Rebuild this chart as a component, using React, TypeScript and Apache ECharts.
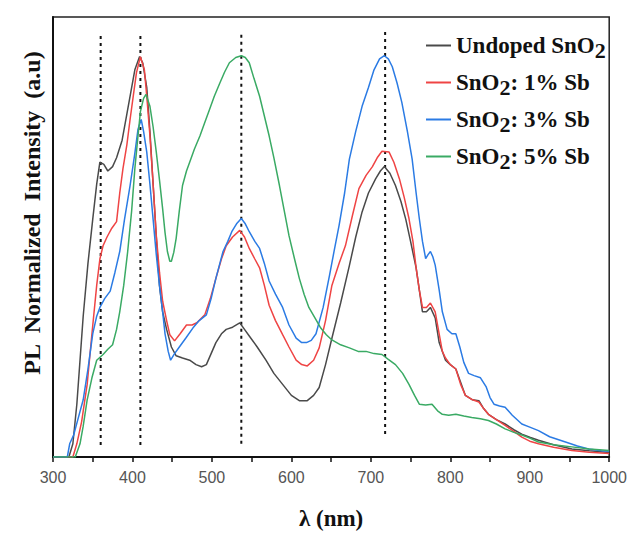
import React, { useEffect, useRef } from "react";
import * as echarts from "echarts";

const seriesNames = ["Undoped SnO2", "SnO2: 1% Sb", "SnO2: 3% Sb", "SnO2: 5% Sb"];
const seriesColors = ["#4a4a4a", "#ef4444", "#2b7be4", "#3aaa64"];

const undopedX = [300, 320, 325, 330, 338, 344, 350, 355, 359, 364, 369, 375, 380, 387, 393, 398, 403, 409, 413, 418, 422, 426, 430, 434, 438, 443, 449, 455, 463, 472, 480, 487, 493, 499, 505, 512, 518, 526, 535, 541, 547, 557, 568, 578, 589, 600, 610, 620, 628, 635, 643, 651, 662, 673, 681, 689, 697, 706, 712, 717, 724, 731, 738, 744, 750, 757, 765, 770, 775, 781, 786, 794, 800, 807, 813, 819, 828, 836, 842, 848, 858, 869, 880, 890, 900, 911, 930, 953, 975, 1000];
const undopedY = [0, 0, 0.03, 0.12, 0.32, 0.44, 0.54, 0.62, 0.67, 0.665, 0.65, 0.66, 0.68, 0.72, 0.78, 0.83, 0.88, 0.91, 0.895, 0.84, 0.74, 0.62, 0.5, 0.39, 0.33, 0.29, 0.25, 0.23, 0.225, 0.22, 0.21, 0.205, 0.21, 0.235, 0.26, 0.28, 0.29, 0.295, 0.305, 0.29, 0.275, 0.25, 0.22, 0.19, 0.165, 0.14, 0.128, 0.128, 0.14, 0.158, 0.21, 0.27, 0.35, 0.435, 0.5, 0.557, 0.6, 0.632, 0.65, 0.66, 0.645, 0.617, 0.58, 0.54, 0.49, 0.43, 0.33, 0.33, 0.34, 0.316, 0.26, 0.22, 0.21, 0.2, 0.17, 0.14, 0.13, 0.128, 0.11, 0.097, 0.085, 0.075, 0.062, 0.052, 0.045, 0.038, 0.028, 0.018, 0.014, 0.01];

const sb1X = [300, 325, 330, 336, 343, 349, 355, 359, 363, 368, 374, 380, 384, 388, 393, 397, 401, 405, 410, 415, 418, 422, 426, 430, 434, 438, 443, 447, 453, 460, 468, 475, 481, 491, 498, 505, 512, 518, 526, 535, 541, 547, 554, 560, 566, 572, 580, 589, 597, 606, 613, 620, 628, 635, 643, 651, 660, 668, 677, 685, 694, 702, 708, 714, 723, 729, 736, 742, 748, 753, 757, 761, 765, 770, 775, 781, 786, 790, 794, 800, 807, 813, 819, 828, 836, 842, 848, 858, 869, 880, 890, 900, 911, 930, 953, 975, 1000];
const sb1Y = [0, 0, 0.03, 0.08, 0.165, 0.28, 0.39, 0.45, 0.48, 0.5, 0.52, 0.535, 0.6, 0.655, 0.71, 0.767, 0.82, 0.873, 0.91, 0.88, 0.82, 0.73, 0.62, 0.503, 0.42, 0.354, 0.31, 0.278, 0.264, 0.28, 0.3, 0.3, 0.305, 0.323, 0.36, 0.406, 0.45, 0.48, 0.5, 0.515, 0.5, 0.474, 0.45, 0.43, 0.39, 0.345, 0.31, 0.278, 0.25, 0.22, 0.21, 0.207, 0.22, 0.248, 0.31, 0.39, 0.44, 0.48, 0.55, 0.61, 0.64, 0.66, 0.68, 0.695, 0.693, 0.67, 0.632, 0.59, 0.542, 0.49, 0.43, 0.38, 0.34, 0.34, 0.35, 0.33, 0.28, 0.24, 0.225, 0.21, 0.2, 0.165, 0.14, 0.13, 0.125, 0.11, 0.097, 0.085, 0.072, 0.058, 0.045, 0.036, 0.03, 0.022, 0.015, 0.011, 0.008];

const sb3X = [300, 318, 321, 326, 332, 338, 344, 350, 355, 359, 365, 372, 378, 384, 390, 397, 403, 407, 411, 414, 418, 422, 426, 430, 434, 438, 441, 445, 448, 453, 459, 467, 476, 484, 493, 499, 505, 510, 514, 520, 525, 531, 537, 542, 547, 554, 560, 566, 572, 580, 589, 597, 606, 613, 619, 625, 631, 640, 648, 654, 660, 667, 673, 681, 689, 697, 704, 711, 717, 722, 727, 733, 739, 746, 752, 757, 761, 765, 769, 772, 775, 778, 781, 786, 790, 796, 802, 807, 812, 817, 823, 830, 838, 845, 850, 855, 862, 869, 878, 890, 900, 911, 925, 945, 960, 974, 990, 1000];
const sb3Y = [0, 0, 0.03, 0.05, 0.09, 0.13, 0.2, 0.28, 0.32, 0.34, 0.36, 0.377, 0.42, 0.467, 0.54, 0.617, 0.69, 0.745, 0.767, 0.74, 0.693, 0.62, 0.54, 0.46, 0.39, 0.33, 0.28, 0.24, 0.22, 0.235, 0.25, 0.27, 0.293, 0.31, 0.323, 0.36, 0.406, 0.44, 0.467, 0.49, 0.512, 0.53, 0.542, 0.53, 0.512, 0.49, 0.474, 0.44, 0.4, 0.37, 0.34, 0.3, 0.27, 0.26, 0.26, 0.265, 0.28, 0.34, 0.413, 0.47, 0.526, 0.6, 0.677, 0.74, 0.797, 0.84, 0.88, 0.905, 0.912, 0.905, 0.887, 0.85, 0.806, 0.74, 0.677, 0.6, 0.542, 0.49, 0.451, 0.46, 0.467, 0.455, 0.436, 0.38, 0.33, 0.29, 0.28, 0.28, 0.25, 0.215, 0.19, 0.185, 0.18, 0.16, 0.135, 0.12, 0.116, 0.113, 0.095, 0.075, 0.068, 0.06, 0.046, 0.034, 0.025, 0.018, 0.014, 0.013];

const sb5X = [300, 328, 334, 338, 343, 349, 355, 363, 369, 375, 380, 384, 389, 394, 399, 403, 407, 410, 414, 417, 422, 426, 430, 434, 438, 441, 444, 447, 449, 452, 455, 459, 463, 468, 472, 478, 485, 491, 497, 503, 510, 516, 522, 530, 537, 542, 547, 553, 560, 566, 572, 578, 585, 591, 597, 604, 610, 616, 622, 630, 637, 644, 651, 662, 673, 684, 694, 704, 714, 722, 731, 740, 748, 755, 761, 769, 777, 784, 790, 798, 807, 817, 827, 838, 848, 858, 869, 880, 890, 900, 911, 930, 953, 975, 1000];
const sb5Y = [0, 0, 0.03, 0.07, 0.13, 0.18, 0.22, 0.233, 0.245, 0.255, 0.29, 0.33, 0.39, 0.467, 0.56, 0.655, 0.73, 0.785, 0.815, 0.824, 0.797, 0.75, 0.693, 0.63, 0.564, 0.51, 0.467, 0.445, 0.445, 0.465, 0.497, 0.56, 0.617, 0.65, 0.67, 0.7, 0.73, 0.76, 0.79, 0.82, 0.85, 0.875, 0.896, 0.908, 0.912, 0.908, 0.896, 0.86, 0.82, 0.775, 0.73, 0.68, 0.617, 0.56, 0.503, 0.45, 0.406, 0.37, 0.34, 0.315, 0.293, 0.278, 0.266, 0.255, 0.248, 0.24, 0.24, 0.235, 0.233, 0.222, 0.21, 0.19, 0.165, 0.14, 0.12, 0.118, 0.12, 0.105, 0.097, 0.095, 0.097, 0.093, 0.09, 0.087, 0.083, 0.075, 0.064, 0.056, 0.05, 0.043, 0.034, 0.028, 0.023, 0.018, 0.015];

const markerX = [360, 410, 537, 718];
const markerBottom = [0.027, 0.027, 0.03, 0.052];
const markerTop = [0.96, 0.963, 0.963, 0.975];

const xTickLabels = ["300", "400", "500", "600", "700", "800", "900", "1000"];
const xTitle = "λ (nm)";
const yTitle = "PL  Normalized  Intensity  (a.u)";

const allX = [undopedX, sb1X, sb3X, sb5X];
const allY = [undopedY, sb1Y, sb3Y, sb5Y];

const serif = "'Liberation Serif', 'Times New Roman', serif";

function legendFormatter(name: string): string {
  const i = name.indexOf("SnO2");
  const pre = name.slice(0, i);
  const post = name.slice(i + 4);
  return (pre ? `{a|${pre}}` : "") + "{a|SnO}{s|2}" + (post ? `{a|${post}}` : "");
}

export default function App() {
  const ref = useRef<HTMLDivElement>(null);
  useEffect(() => {
    if (!ref.current) return;
    const chart = echarts.init(ref.current, undefined, { renderer: "svg" });
    const dataSeries = seriesNames.map((name, k) => ({
      name,
      type: "line",
      data: allX[k].map((x, j) => [x, allY[k][j]]),
      showSymbol: false,
      symbol: "none",
      lineStyle: { color: seriesColors[k], width: 1.5 },
      itemStyle: { color: seriesColors[k] },
      z: 3 + k,
    }));
    const markerSeries = markerX.map((x, k) => ({
      name: "marker" + k,
      type: "line",
      data: [
        [x, markerBottom[k]],
        [x, markerTop[k]],
      ],
      showSymbol: false,
      symbol: "none",
      lineStyle: { color: "#111", width: 2, type: [3, 4] },
      z: 2,
      silent: true,
    }));
    chart.setOption({
      animation: false,
      backgroundColor: "#fff",
      grid: {
        left: 53,
        right: 19,
        top: 17,
        bottom: 75,
        show: true,
        borderColor: "#222",
        borderWidth: 1.5,
      },
      xAxis: {
        type: "value",
        min: 300,
        max: 1000,
        interval: 50,
        axisLine: { show: true, onZero: false, lineStyle: { color: "#111", width: 2 } },
        axisTick: { show: true, inside: false, length: 5, lineStyle: { color: "#111", width: 1.5 } },
        axisLabel: {
          formatter: (v: number) => (xTickLabels.includes(String(v)) ? String(v) : ""),
          fontSize: 16,
          color: "#555",
          fontFamily: "'Liberation Sans', Arial, sans-serif",
          margin: 12,
        },
        splitLine: { show: false },
        name: xTitle,
        nameLocation: "middle",
        nameGap: 50,
        nameTextStyle: { fontFamily: serif, fontWeight: "bold", fontSize: 23, color: "#111" },
      },
      yAxis: {
        type: "value",
        min: 0,
        max: 1,
        axisLine: { show: true, lineStyle: { color: "#111", width: 2 } },
        axisTick: { show: false },
        axisLabel: { show: false },
        splitLine: { show: false },
      },
      legend: {
        data: seriesNames,
        orient: "vertical",
        left: 421,
        top: 29,
        itemWidth: 25,
        itemHeight: 2,
        itemGap: 10,
        icon: "rect",
        formatter: legendFormatter,
        textStyle: {
          fontFamily: serif,
          fontWeight: "bold",
          fontSize: 23,
          color: "#111",
          rich: {
            a: { fontFamily: serif, fontWeight: "bold", fontSize: 23, color: "#111" },
            s: { fontFamily: serif, fontWeight: "bold", fontSize: 22, color: "#111", padding: [9, 0, 0, 0] },
          },
        },
      },
      graphic: [
        {
          type: "text",
          x: 32,
          y: 213,
          rotation: Math.PI / 2,
          style: {
            text: yTitle,
            font: `bold 24px ${serif}`,
            fill: "#111",
            align: "center",
            verticalAlign: "middle",
          },
        },
      ],
      series: [...markerSeries, ...dataSeries],
    });
    return () => chart.dispose();
  }, []);
  return (
    <div
      ref={ref}
      style={{ position: "fixed", left: 0, top: 0, width: 630, height: 535, background: "#fff" }}
    />
  );
}
